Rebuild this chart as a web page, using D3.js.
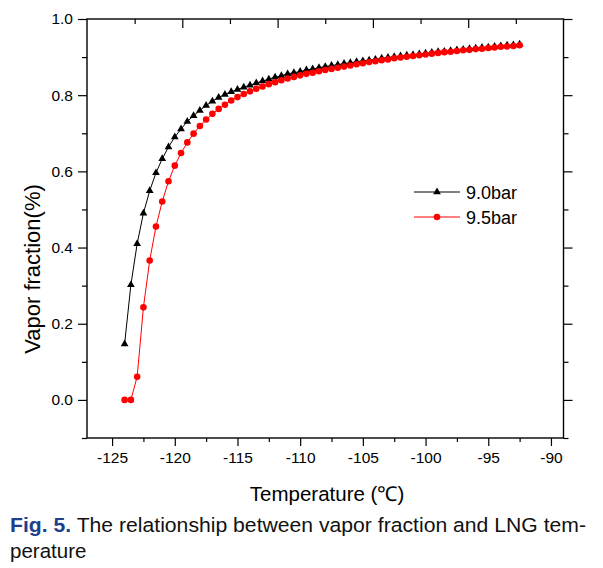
<!DOCTYPE html>
<html>
<head>
<meta charset="utf-8">
<script src="https://cdn.jsdelivr.net/npm/d3@7"></script>
<style>
  body { margin: 0; background: #fff; }
  svg { display: block; font-family: "Liberation Sans", Arial, sans-serif; }
</style>
</head>
<body>
<svg id="chart" width="603" height="568"></svg>
<script>
// temperatures, -124 to -92.5 in 0.5 steps
var temps = [
  -124, -123.5, -123, -122.5, -122, -121.5, -121, -120.5, -120, -119.5,
  -119, -118.5, -118, -117.5, -117, -116.5, -116, -115.5, -115, -114.5,
  -114, -113.5, -113, -112.5, -112, -111.5, -111, -110.5, -110, -109.5,
  -109, -108.5, -108, -107.5, -107, -106.5, -106, -105.5, -105, -104.5,
  -104, -103.5, -103, -102.5, -102, -101.5, -101, -100.5, -100, -99.5,
  -99, -98.5, -98, -97.5, -97, -96.5, -96, -95.5, -95, -94.5,
  -94, -93.5, -93, -92.5
];

var bar90 = [
  0.147, 0.302, 0.410, 0.490, 0.549, 0.596, 0.633, 0.664, 0.690, 0.711,
  0.731, 0.746, 0.760, 0.773, 0.784, 0.794, 0.802, 0.809, 0.815, 0.821,
  0.826, 0.832, 0.837, 0.842, 0.847, 0.851, 0.856, 0.859, 0.862, 0.866,
  0.869, 0.872, 0.875, 0.878, 0.880, 0.883, 0.885, 0.888, 0.890, 0.892,
  0.894, 0.897, 0.899, 0.901, 0.903, 0.905, 0.906, 0.908, 0.910, 0.912,
  0.914, 0.915, 0.917, 0.919, 0.920, 0.922, 0.923, 0.925, 0.926, 0.928,
  0.929, 0.931, 0.932, 0.934
];

var bar95 = [
  0.000, 0.000, 0.061, 0.243, 0.366, 0.455, 0.521, 0.574, 0.615, 0.648,
  0.676, 0.699, 0.719, 0.736, 0.751, 0.764, 0.775, 0.786, 0.795, 0.803,
  0.810, 0.817, 0.823, 0.829, 0.834, 0.839, 0.844, 0.848, 0.852, 0.856,
  0.859, 0.863, 0.866, 0.869, 0.872, 0.875, 0.878, 0.881, 0.884, 0.887,
  0.889, 0.892, 0.894, 0.897, 0.899, 0.901, 0.903, 0.905, 0.907, 0.909,
  0.911, 0.913, 0.914, 0.916, 0.918, 0.919, 0.921, 0.922, 0.924, 0.925,
  0.927, 0.928, 0.929, 0.931
];

var seriesNames = ["9.0bar", "9.5bar"];
var xTicks = [-125, -120, -115, -110, -105, -100, -95, -90];
var yTicks = [0.0, 0.2, 0.4, 0.6, 0.8, 1.0];

(function () {
    var pLeft = 87, pRight = 563.5, pTop = 19, pBottom = 438;

    var svg = d3.select("#chart");
    svg.append("rect").attr("width", 603).attr("height", 568).attr("fill", "#fff");

    var x = d3.scaleLinear().domain([-127, -89]).range([pLeft, pRight]);
    var y = d3.scaleLinear().domain([-0.1, 1.0]).range([pBottom, pTop]);
    // the top axis of the frame is split into equal parts, not temperatures
    var xTop = d3.scaleLinear().domain([0, 10]).range([pLeft, pRight]);

    var xMinor = [-122.5, -117.5, -112.5, -107.5, -102.5, -97.5, -92.5];
    var yMinor = [-0.1, 0.1, 0.3, 0.5, 0.7, 0.9];

    // plain hyphen for the minus sign, like the original
    var fmtX = function (d) { return String(d); };
    var fmtY = function (d) { return d.toFixed(1); };

    function axisStyle(g) {
        g.select(".domain").remove();
        g.selectAll("line").attr("stroke", "#000").attr("stroke-width", 1.2);
        g.selectAll("text").attr("font-size", "15.5px").attr("fill", "#000")
            .attr("font-family", "Liberation Sans, Arial, sans-serif");
    }

    // bottom
    svg.append("g").attr("transform", "translate(0," + pBottom + ")")
        .call(d3.axisBottom(x).tickValues(xTicks).tickSize(8).tickPadding(6).tickFormat(fmtX))
        .call(axisStyle);
    svg.append("g").attr("transform", "translate(0," + pBottom + ")")
        .call(d3.axisBottom(x).tickValues(xMinor).tickSize(4).tickFormat(""))
        .call(axisStyle);

    // left
    svg.append("g").attr("transform", "translate(" + pLeft + ",0)")
        .call(d3.axisLeft(y).tickValues(yTicks).tickSize(9).tickPadding(5).tickFormat(fmtY))
        .call(axisStyle);
    svg.append("g").attr("transform", "translate(" + pLeft + ",0)")
        .call(d3.axisLeft(y).tickValues(yMinor).tickSize(5).tickFormat(""))
        .call(axisStyle);

    // right (mirror, outward)
    svg.append("g").attr("transform", "translate(" + pRight + ",0)")
        .call(d3.axisRight(y).tickValues(yTicks).tickSize(9).tickFormat(""))
        .call(axisStyle);
    svg.append("g").attr("transform", "translate(" + pRight + ",0)")
        .call(d3.axisRight(y).tickValues(yMinor).tickSize(5).tickFormat(""))
        .call(axisStyle);

    // top (inward)
    svg.append("g").attr("transform", "translate(0," + pTop + ")")
        .call(d3.axisTop(xTop).tickValues([2, 4, 6, 8]).tickSize(-9).tickFormat(""))
        .call(axisStyle);
    svg.append("g").attr("transform", "translate(0," + pTop + ")")
        .call(d3.axisTop(xTop).tickValues([1, 3, 5, 7, 9]).tickSize(-5).tickFormat(""))
        .call(axisStyle);

    // frame
    svg.append("rect")
        .attr("x", pLeft).attr("y", pTop)
        .attr("width", pRight - pLeft).attr("height", pBottom - pTop)
        .attr("fill", "none").attr("stroke", "#000").attr("stroke-width", 1.4);

    // series
    var series = [
        { name: seriesNames[0], values: bar90, color: "#000", symbol: d3.symbolTriangle, size: 26 },
        { name: seriesNames[1], values: bar95, color: "#ff0000", symbol: d3.symbolCircle, size: 34 }
    ];

    var line = d3.line()
        .x(function (d) { return x(d[0]); })
        .y(function (d) { return y(d[1]); });

    series.forEach(function (s) {
        var pts = temps.map(function (t, i) { return [t, s.values[i]]; });
        svg.append("path")
            .datum(pts)
            .attr("d", line)
            .attr("fill", "none")
            .attr("stroke", s.color)
            .attr("stroke-width", 1);
        svg.append("g").selectAll("path")
            .data(pts)
            .enter().append("path")
            .attr("transform", function (d) { return "translate(" + x(d[0]) + "," + y(d[1]) + ")"; })
            .attr("d", d3.symbol().type(s.symbol).size(s.size))
            .attr("fill", s.color);
    });

    // legend
    var legend = svg.append("g");
    series.forEach(function (s, i) {
        var ly = 192 + i * 25;
        legend.append("line")
            .attr("x1", 414).attr("x2", 460).attr("y1", ly).attr("y2", ly)
            .attr("stroke", s.color).attr("stroke-width", 1);
        legend.append("path")
            .attr("transform", "translate(437," + ly + ")")
            .attr("d", d3.symbol().type(s.symbol).size(s.size))
            .attr("fill", s.color);
        legend.append("text")
            .attr("x", 466).attr("y", ly + 6.5)
            .attr("font-size", "18px")
            .text(s.name);
    });

    // axis titles
    svg.append("text")
        .attr("x", 327).attr("y", 501)
        .attr("text-anchor", "middle")
        .attr("font-size", "20.5px")
        .text("Temperature (℃)");

    svg.append("text")
        .attr("transform", "translate(40,269) rotate(-90)")
        .attr("text-anchor", "middle")
        .attr("font-size", "22px")
        .text("Vapor fraction(%)");

    // caption
    var cap = svg.append("text")
        .attr("x", 10).attr("y", 532)
        .attr("font-size", "20.5px")
        .attr("textLength", 576)
        .attr("lengthAdjust", "spacingAndGlyphs");
    cap.append("tspan").attr("font-weight", "bold").attr("fill", "#1d3f8c").text("Fig. 5.");
    cap.append("tspan").attr("fill", "#111").text(" The relationship between vapor fraction and LNG tem-");
    svg.append("text")
        .attr("x", 10).attr("y", 558)
        .attr("font-size", "20.5px")
        .attr("fill", "#111")
        .text("perature");
})();
</script>
</body>
</html>
